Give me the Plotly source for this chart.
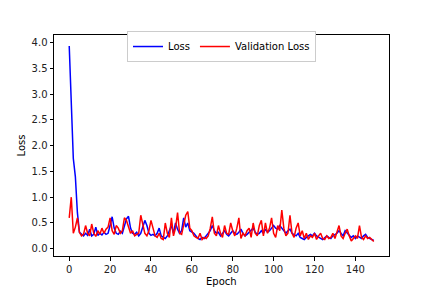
import plotly.graph_objects as go

epochs = list(range(150))

loss = [
    3.93, 2.70, 1.75, 1.40, 0.70, 0.32, 0.28, 0.25, 0.30, 0.26,
    0.38, 0.25, 0.28, 0.42, 0.26, 0.30, 0.27, 0.32, 0.28, 0.30,
    0.45, 0.62, 0.40, 0.30, 0.28, 0.34, 0.30, 0.45, 0.58, 0.63,
    0.40, 0.30, 0.28, 0.32, 0.25, 0.30, 0.42, 0.55, 0.45, 0.30,
    0.26, 0.28, 0.25, 0.30, 0.40, 0.25, 0.22, 0.20, 0.25, 0.35,
    0.45, 0.30, 0.50, 0.38, 0.30, 0.35, 0.60, 0.42, 0.50, 0.35,
    0.32, 0.30, 0.25, 0.20, 0.18, 0.22, 0.20, 0.25, 0.30, 0.35,
    0.45, 0.35, 0.30, 0.32, 0.25, 0.30, 0.35, 0.28, 0.25, 0.30,
    0.35, 0.30, 0.28, 0.32, 0.38, 0.30, 0.25, 0.28, 0.32, 0.35,
    0.40, 0.32, 0.28, 0.30, 0.35, 0.30, 0.38, 0.32, 0.35, 0.40,
    0.45, 0.40, 0.38, 0.45, 0.40, 0.35, 0.30, 0.35, 0.38, 0.30,
    0.28, 0.25, 0.30, 0.22, 0.20, 0.18, 0.22, 0.25, 0.28, 0.25,
    0.30, 0.25, 0.22, 0.20, 0.18, 0.22, 0.25, 0.22, 0.20, 0.25,
    0.28, 0.30, 0.35, 0.30, 0.25, 0.35, 0.30, 0.25, 0.22, 0.25,
    0.20, 0.25, 0.22, 0.20, 0.25, 0.28, 0.22, 0.20, 0.18, 0.16,
]

val_loss = [
    0.60, 1.00, 0.30, 0.42, 0.60, 0.32, 0.25, 0.28, 0.45, 0.30,
    0.25, 0.48, 0.30, 0.24, 0.35, 0.28, 0.40, 0.30, 0.38, 0.42,
    0.60, 0.35, 0.28, 0.45, 0.40, 0.30, 0.35, 0.60, 0.55, 0.40,
    0.30, 0.35, 0.25, 0.28, 0.30, 0.65, 0.45, 0.30, 0.25, 0.35,
    0.55, 0.40, 0.25, 0.22, 0.30, 0.20, 0.18, 0.50, 0.30, 0.22,
    0.60, 0.25, 0.40, 0.70, 0.30, 0.28, 0.50, 0.65, 0.72, 0.40,
    0.35, 0.25, 0.22, 0.20, 0.30, 0.18, 0.22, 0.20, 0.25, 0.40,
    0.62, 0.30, 0.25, 0.45, 0.30, 0.22, 0.45, 0.30, 0.28, 0.50,
    0.35, 0.25, 0.40, 0.60, 0.20, 0.30, 0.25, 0.35, 0.40, 0.22,
    0.50, 0.30, 0.25, 0.45, 0.55, 0.25, 0.50, 0.30, 0.40, 0.60,
    0.30, 0.22, 0.45, 0.35, 0.75, 0.40, 0.25, 0.30, 0.65, 0.30,
    0.22, 0.40, 0.50, 0.25, 0.35, 0.20, 0.30, 0.18, 0.25, 0.22,
    0.30, 0.18, 0.25, 0.30, 0.20, 0.18, 0.25, 0.20, 0.22, 0.30,
    0.20, 0.35, 0.45, 0.25, 0.20, 0.30, 0.38, 0.25, 0.15, 0.20,
    0.25, 0.20, 0.45, 0.22, 0.18, 0.25, 0.20, 0.22, 0.18, 0.14,
]

x_ticks = [0, 20, 40, 60, 80, 100, 120, 140]
y_ticks = [0.0, 0.5, 1.0, 1.5, 2.0, 2.5, 3.0, 3.5, 4.0]

fig = go.Figure()
fig.add_trace(go.Scatter(x=epochs, y=loss, mode="lines", name="Loss",
                         line=dict(color="#0000ff", width=1.5)))
fig.add_trace(go.Scatter(x=epochs, y=val_loss, mode="lines", name="Validation Loss",
                         line=dict(color="#ff0000", width=1.5)))

axis_common = dict(showline=True, linecolor="black", linewidth=1, mirror=True,
                   ticks="outside", ticklen=3.5, tickwidth=1, tickcolor="black",
                   showgrid=False, zeroline=False, automargin=False,
                   tickfont=dict(family="DejaVu Sans", size=10, color="#222222"),
                   title_font=dict(family="DejaVu Sans", size=10, color="black"))

# page body has an 8px default margin, so the figure is 8px smaller and shifted
fig.update_layout(
    width=424, height=280,
    margin=dict(l=46, r=43, t=27, b=32, autoexpand=False),
    plot_bgcolor="white", paper_bgcolor="white",
    font=dict(family="DejaVu Sans", size=10, color="black"),
    xaxis=dict(range=[-7.45, 156.45], tickvals=x_ticks,
               ticktext=[str(t) for t in x_ticks], **axis_common),
    yaxis=dict(range=[-0.14, 4.144], tickvals=y_ticks,
               ticktext=[f"{t:.1f}" for t in y_ticks],
               title=dict(text="Loss", standoff=4), **axis_common),
    legend=dict(orientation="h", x=0.5, xanchor="center", y=1.018, yanchor="top",
                bgcolor="white", bordercolor="#cccccc", borderwidth=1,
                font=dict(family="DejaVu Sans", size=10), itemwidth=30,
                tracegroupgap=0),
    showlegend=True,
    annotations=[dict(text="Epoch", x=0.5, y=0, xref="paper", yref="paper",
                      xanchor="center", yanchor="middle", yshift=-25,
                      showarrow=False, font=dict(family="DejaVu Sans", size=10, color="black"))],
)

fig.write_html("out.html")
